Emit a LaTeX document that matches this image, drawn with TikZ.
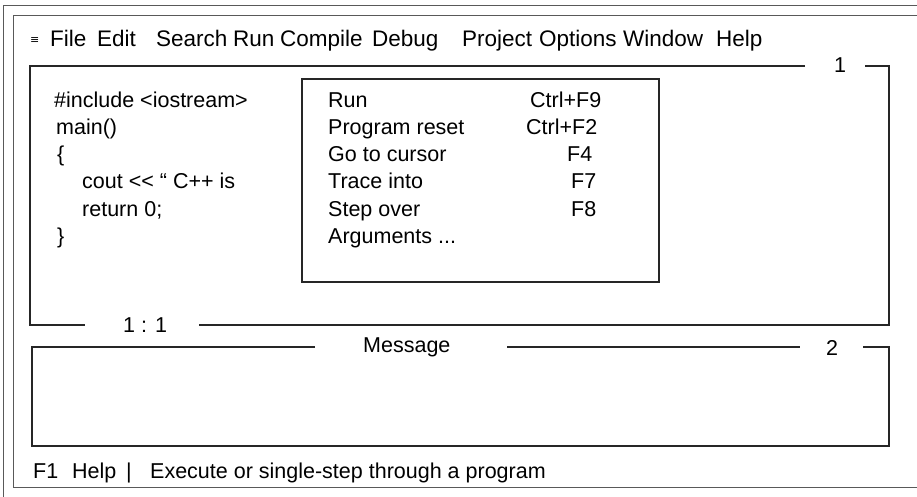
\documentclass[tikz,border=0pt]{standalone}
\usepackage{fontspec}
\setmainfont{Liberation Sans}
\newfontfamily\symfont{DejaVu Sans}
\begin{document}
\begin{tikzpicture}[x=1pt,y=-1pt,
  txt/.style={anchor=base west, inner sep=0pt, font=\fontsize{21.5}{25}\selectfont},
  menu/.style={anchor=base west, inner sep=0pt, font=\fontsize{22.5}{26}\selectfont},
  frame/.style={line width=1.1pt, black!85},
  outer/.style={line width=0.9pt, black!65}]
\useasboundingbox (0,0) rectangle (917,497);
% outer frames
\draw[outer] (3,497) -- (3,5) -- (917,5);
\draw[outer] (917,15) -- (13,15) -- (13,487) -- (917,487);
% window 1
\draw[frame] (805,66) -- (30,66) -- (30,325) -- (85,325);
\draw[frame] (199,325) -- (889,325) -- (889,66) -- (865,66);
% window 2
\draw[frame] (315,347) -- (32,347) -- (32,446) -- (889,446) -- (889,347) -- (863,347);
\draw[frame] (507,347) -- (800,347);
% dropdown
\draw[frame] (302,79) rectangle (659,282);
% menu bar
\node[anchor=base west, inner sep=0pt, font=\symfont\fontsize{11}{13}\selectfont] (sys) at (30,44) {≡};
\node[menu] (mfile) at (50,47) {File};
\node[menu] (medit) at (97,47) {Edit};
\node[menu] (msearch) at (156,47) {Search};
\node[menu] (mrun) at (233,47) {Run};
\node[menu] (mcomp) at (280,47) {Compile};
\node[menu] (mdebug) at (372,47) {Debug};
\node[menu] (mproj) at (462,47) {Project};
\node[menu] (mopt) at (539,47) {Options};
\node[menu] (mwin) at (623,47) {Window};
\node[menu] (mhelp) at (716,47) {Help};
% window labels
\node[txt] (w1num) at (834,73) {1};
\node[txt] (pos) at (123,332) {1 : 1};
\node[txt] (msg) at (363,352) {Message};
\node[txt] (w2num) at (826,355) {2};
% code
\node[txt] (c1) at (54,108) {\#include <iostream>};
\node[txt] (c2) at (56,135) {main()};
\node[txt] (c3) at (57,162) {\{};
\node[txt] (c4) at (82,189) {cout <\kern0pt< “ C++ is};
\node[txt] (c5) at (82,216) {return 0;};
\node[txt] (c6) at (57,243) {\}};
% dropdown items
\node[txt] (d1) at (328,108) {Run};
\node[txt] (d2) at (328,135) {Program reset};
\node[txt] (d3) at (328,162) {Go to cursor};
\node[txt] (d4) at (328,189) {Trace into};
\node[txt] (d5) at (328,216) {Step over};
\node[txt] (d6) at (328,243) {Arguments ...};
\node[txt] (k1) at (530,108) {Ctrl+F9};
\node[txt] (k2) at (526,135) {Ctrl+F2};
\node[txt] (k3) at (567,162) {F4};
\node[txt] (k4) at (571,189) {F7};
\node[txt] (k5) at (571,216) {F8};
% status line
\node[txt] (s1) at (33,478) {F1};
\node[txt] (s2) at (72,478) {Help};
\node[txt] (s3) at (126,478) {|};
\node[txt] (s4) at (150,478) {Execute or single-step through a program};
\end{tikzpicture}
\end{document}
